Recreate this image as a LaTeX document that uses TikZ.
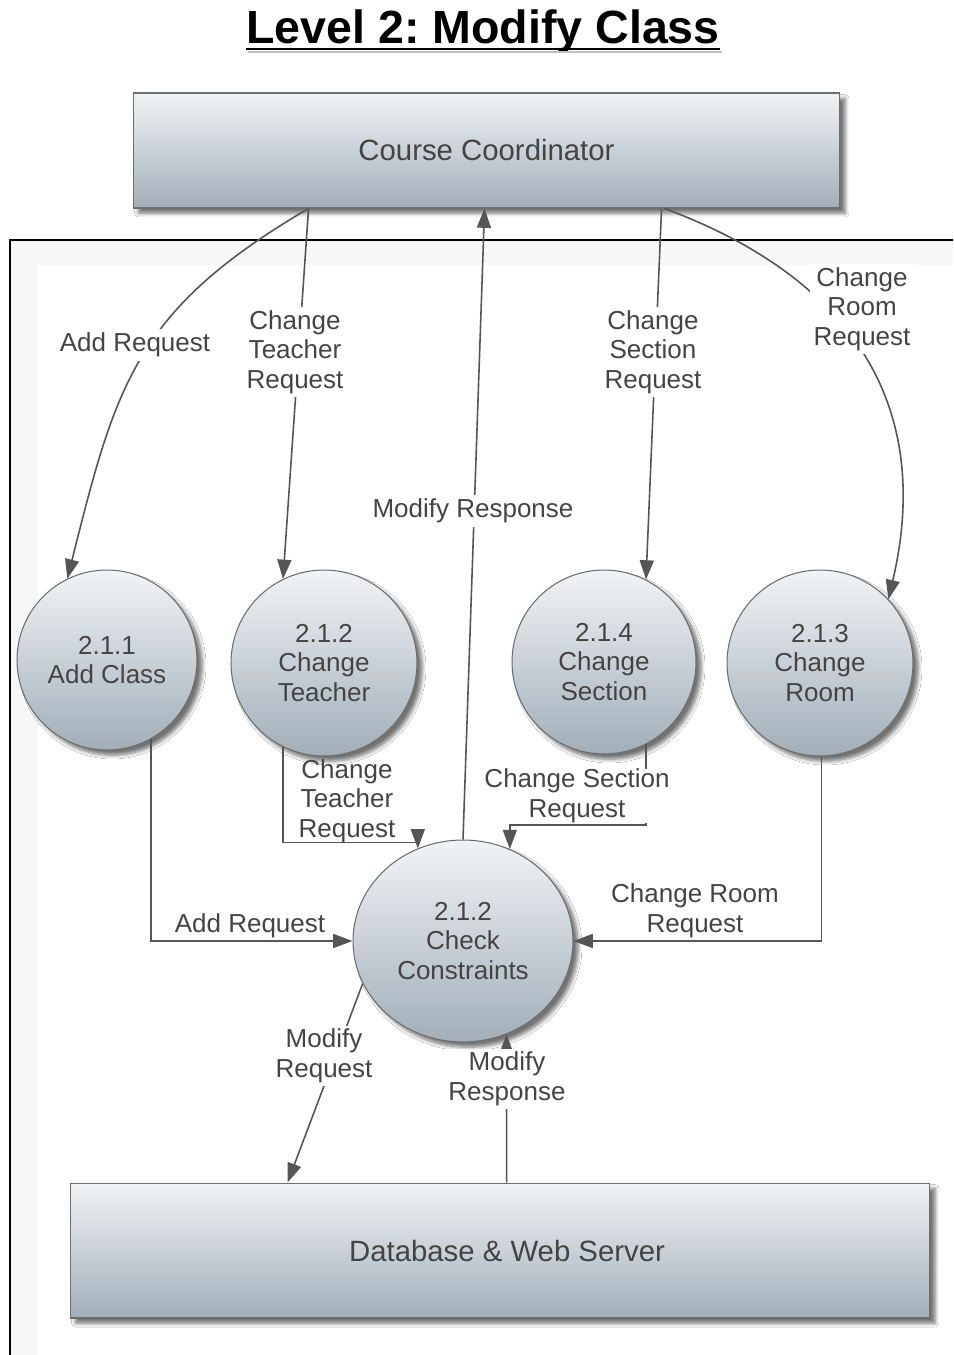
\documentclass[tikz,border=0pt]{standalone}
\usepackage{fontspec}
\setmainfont{Liberation Sans}
\usetikzlibrary{arrows.meta,calc,shadows.blur,shapes.geometric}

\definecolor{ink}{HTML}{444444}
\definecolor{flowline}{HTML}{555555}
\definecolor{shadetop}{HTML}{F1F4F6}
\definecolor{shadebot}{HTML}{A2AEB8}
\definecolor{edgegray}{HTML}{6E6E6E}
\definecolor{band}{HTML}{F7F7F7}

\begin{document}
\frenchspacing
\begin{tikzpicture}[x=0.02cm,y=-0.02cm,
  entity/.style={draw=edgegray, line width=0.6pt, top color=shadetop, bottom color=shadebot,
    blur shadow={shadow xshift=3pt, shadow yshift=-3pt, shadow blur steps=6, shadow opacity=55},
    text=ink, font=\fontsize{16.7}{19}\selectfont, inner sep=0pt},
  process/.style={circle, draw=edgegray, line width=0.6pt, top color=shadetop, bottom color=shadebot,
    blur shadow={shadow xshift=3pt, shadow yshift=-3pt, shadow blur steps=6, shadow opacity=55},
    text=ink, align=center, inner sep=0pt, font=\fontsize{14.8}{16.8}\selectfont},
  flow/.style={draw=flowline, line width=0.9pt, -{Triangle[length=11pt,width=8pt]}},
  lbl/.style={text=ink, align=center, inner sep=0pt, font=\fontsize{14.8}{16.8}\selectfont},
  lblw/.style={lbl, fill=white, inner sep=2pt},
]
\useasboundingbox (0,0) rectangle (953,1355);
\fill[white] (0,0) rectangle (953,1355);

% system boundary with its faint inner band
\fill[band] (10,240) rectangle (953,1355);
\fill[white] (38,265) rectangle (953,1355);
\draw[black, line width=1pt] (10,1355) -- (10,240) -- (953,240);

% heading
\node[font=\bfseries\fontsize{26.5}{30}\selectfont, inner sep=0pt, anchor=base] (title) at (483,44) {Level 2: Modify Class};
\draw[gray!50, line width=1pt] ($(title.base west)+(2,8)$) -- ($(title.base east)+(2,8)$);
\draw[black, line width=1.6pt] ($(title.base west)+(0,5)$) -- ($(title.base east)+(0,5)$);

% external entities
\node[entity, minimum width=14.14cm, minimum height=2.3cm] (cc) at (486.5,150.5) {Course Coordinator};
\node[entity, minimum width=17.2cm, minimum height=2.7cm] (db) at (500,1250.5) {\hspace*{8pt}Database \& Web Server};

% processes
\node[process, minimum size=3.6cm]  (p211) at (107,660) {2.1.1\\Add Class};
\node[process, minimum size=3.72cm] (p212) at (324,663) {2.1.2\\Change\\Teacher};
\node[process, minimum size=3.68cm] (p214) at (604,662) {2.1.4\\Change\\Section};
\node[process, minimum size=3.72cm] (p213) at (820,663) {2.1.3\\Change\\Room};
\node[process, ellipse, minimum width=4.4cm, minimum height=4.04cm] (chk) at (463,941) {2.1.2\\Check\\Constraints};

% requests from the coordinator
\draw[flow] ($(cc.south west)+(176,0)$) .. controls (135,310) and (116,385) .. (p211.116);
\draw[flow] ($(cc.south west)+(176,0)$) -- (p212.116);
\draw[flow] ($(cc.south west)+(529,0)$) -- (p214.63);
\draw[flow] ($(cc.south west)+(532,0)$) .. controls (852,278) and (934,405) .. (p213.43);
\draw[flow] (chk.north) -- ($(cc.south west)+(352,0)$);

% requests passed on to the constraint check
\draw[flow] (p211.-61) |- (chk.west);
\draw[flow] (p212.-116) |- ($(chk.116)+(0,-6)$) -- (chk.116);
\draw[flow] (p214.-63) |- ($(chk.63)+(0,-24)$) -- (chk.63);
\draw[flow] (p213.-89) |- (chk.east);

% exchange with the database
\draw[flow] (chk.203) -- ($(db.north west)+(218,0)$);
\draw[flow] ($(db.north west)+(437,0)$) -- (chk.-65);

% flow labels
\node[lblw] (l1) at (135,345) {Add Request};
\node[lblw] (l2) at (295,352) {Change\\Teacher\\Request};
\node[lblw] (l3) at (473,511) {Modify Response};
\node[lblw] (l4) at (653,352) {Change\\Section\\Request};
\node[lblw] (l5) at (862,309) {Change\\Room\\Request};
\node[lbl, anchor=south] (l6) at (250,938) {Add Request};
\node[lbl] (l7) at (347,801) {Change\\Teacher\\Request};
\node[lbl, fill=white] (l8) at (577,796) {Change Section\\Request};
\node[lbl, anchor=south] (l9) at (695,938) {Change Room\\Request};
\node[lblw] (l10) at (324,1056) {Modify\\Request};
\node[lblw] (l11) at (507,1079) {Modify\\Response};
\end{tikzpicture}
\end{document}
